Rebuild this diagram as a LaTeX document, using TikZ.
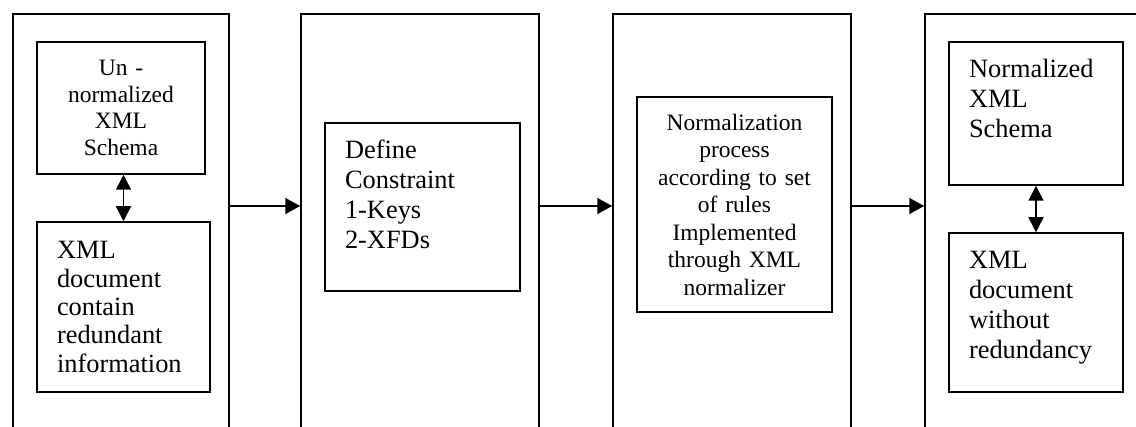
\documentclass[tikz,border=0pt]{standalone}
\usepackage{fontspec}
\setmainfont{Liberation Serif}
\usetikzlibrary{arrows.meta,positioning}

\begin{document}
\begin{tikzpicture}[
    x=1pt, y=-1pt,
    every node/.style={font=\fontsize{26.4}{30}\selectfont},
    small/.style={font=\fontsize{23.5}{27}\selectfont},
    stage/.style={draw, line width=1.5pt, minimum width=238pt, minimum height=426pt, inner sep=0pt},
    inbox/.style={draw, line width=1.5pt, inner xsep=20pt, inner ysep=0pt, align=left},
    cbox/.style={inbox, small, inner xsep=8pt, align=center},
    arrow/.style={line width=1.5pt, -{Triangle[length=15pt,width=16pt]}},
    dbl/.style={line width=1.5pt, {Triangle[length=15pt,width=15pt]}-{Triangle[length=15pt,width=15pt]}}
]
\useasboundingbox (0,0) rectangle (1136,427);
\clip (0,0) rectangle (1136,427);

\node[stage, minimum width=216pt] (stage1) at (121,227) {};
\node[stage] (stage2) at (420,227) {};
\node[stage] (stage3) at (732,227) {};
\node[stage] (stage4) at (1044,227) {};

\node[cbox, minimum width=168pt, text width=152pt, minimum height=132pt,
    font=\fontsize{23.5}{26.7}\selectfont] (unschema) at (121,108)
    {Un -\\normalized\\XML\\Schema};
\node[inbox, minimum width=173pt, text width=133pt, minimum height=170pt,
    font=\fontsize{26.4}{28.3}\selectfont] (rawdoc) at (123.5,307)
    {XML\\document\\contain\\redundant\\information};

\node[inbox, minimum width=195pt, text width=155pt, minimum height=168pt] (constr) at (422.5,207)
    {Define\\Constraint\\1-Keys\\2-XFDs\\[-5pt]\mbox{}};

\node[cbox, minimum width=195pt, text width=179pt, minimum height=215pt,
    font=\fontsize{23.5}{27.5}\selectfont] (normproc) at (734.5,204.5)
    {Normalization\\process\\according to set\\of rules\\Implemented\\through XML\\normalizer};

\node[inbox, minimum width=174pt, text width=134pt, minimum height=143pt] (nschema) at (1036,113.5)
    {Normalized\\XML\\Schema\\\mbox{}};
\node[inbox, minimum width=174pt, text width=134pt, minimum height=159pt] (cleandoc) at (1036,312.5)
    {XML\\document\\without\\redundancy\\[-15pt]\mbox{}};

\coordinate (lvl) at (0,206);

\draw[arrow] (stage1.east |- lvl) -- (stage2.west |- lvl);
\draw[arrow] (stage2.east |- lvl) -- (stage3.west |- lvl);
\draw[arrow] (stage3.east |- lvl) -- (stage4.west |- lvl);

\draw[dbl] (rawdoc.north |- unschema.south) -- (rawdoc.north);
\draw[dbl] (cleandoc.north |- nschema.south) -- (cleandoc.north);

\end{tikzpicture}
\end{document}
